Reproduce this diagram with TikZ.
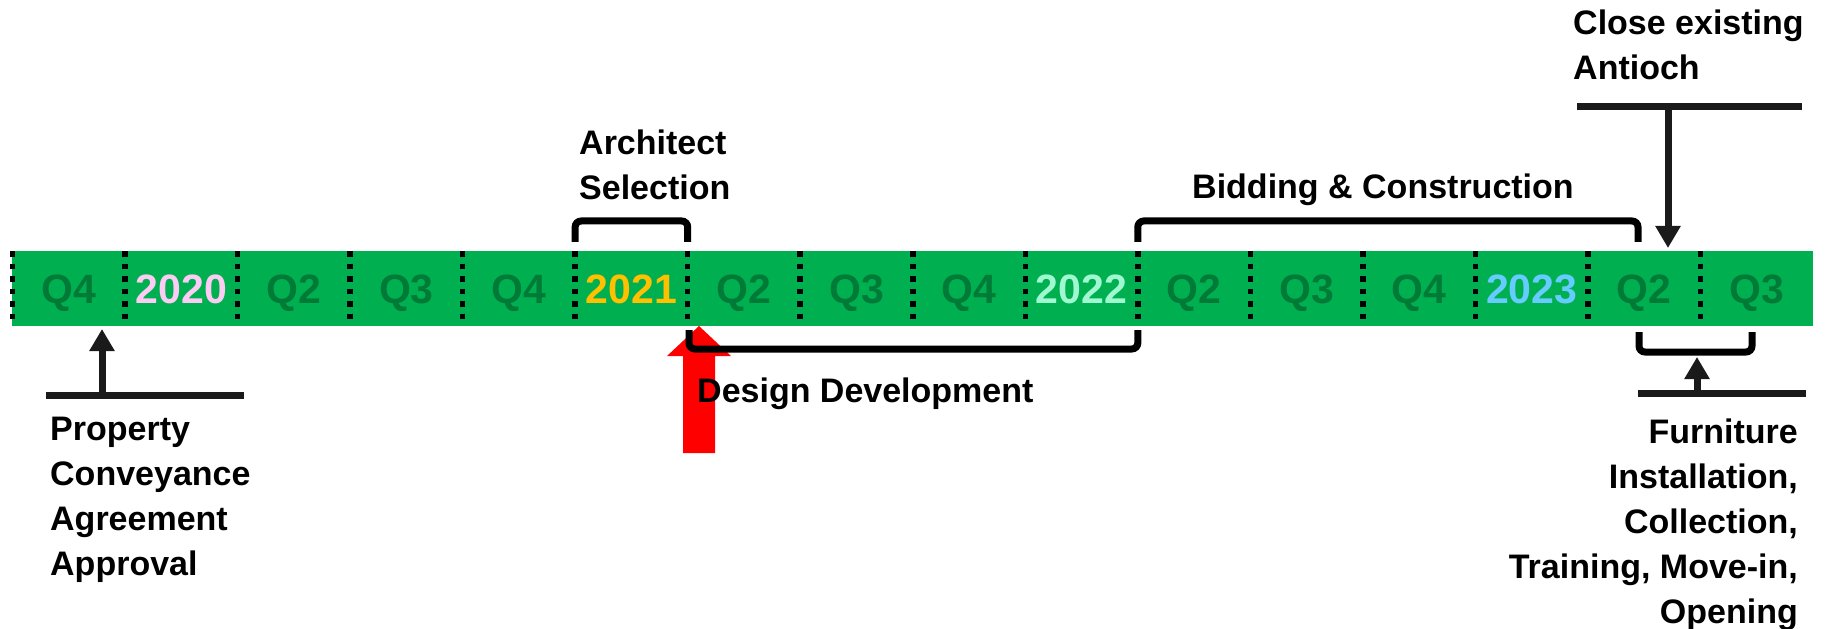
\documentclass[tikz,border=0pt]{standalone}
\usepackage{fontspec}
\setmainfont{Liberation Sans}
\usetikzlibrary{arrows.meta}
\definecolor{bargreen}{HTML}{00B050}
\definecolor{qgreen}{HTML}{007A37}
\definecolor{yaa}{HTML}{FCCCF4}
\definecolor{ybb}{HTML}{FFC000}
\definecolor{ycc}{HTML}{A0F8D0}
\definecolor{ydd}{HTML}{66CCFF}
\definecolor{ink}{HTML}{1A1A1A}
\begin{document}
\begin{tikzpicture}[x=1bp,y=-1bp,
  barbox/.style={fill=bargreen, minimum width=1800.5bp, minimum height=75bp, inner sep=0pt},
  celltext/.style={font=\fontsize{41bp}{45bp}\selectfont\bfseries, text height=29.5bp, text depth=0pt, inner sep=0pt},
  txtlabel/.style={font=\fontsize{34bp}{45bp}\selectfont\bfseries, inner sep=0pt, align=left},
  divider/.style={line width=5.5bp, dash pattern=on 5.5bp off 7bp},
  bracketline/.style={black, line width=7bp, rounded corners=6bp},
  ruleline/.style={ink, line width=7bp},
  pointer/.style={ink, line width=7bp, -{Triangle[width=24bp,length=22bp]}}
]
\useasboundingbox (0,0) rectangle (1825,629);
% timeline bar
\node[barbox] (bar) at (912.75,288.5) {};
\foreach \t/\c [count=\i from 0] in {Q4/qgreen,2020/yaa,Q2/qgreen,Q3/qgreen,Q4/qgreen,2021/ybb,Q2/qgreen,Q3/qgreen,Q4/qgreen,2022/ycc,Q2/qgreen,Q3/qgreen,Q4/qgreen,2023/ydd,Q2/qgreen,Q3/qgreen}
  \node[celltext, text=\c] (cell\i) at ({12.5+112.53*(\i+0.5)},288.5) {\t};
\foreach \k in {0,...,15}{
  \coordinate (d\k) at ({12.5+112.53*\k},251);
  \draw[divider] (d\k) -- ++(0,75);
}
% red arrow
\fill[red] (683,453) -- (683,356) -- (667,356) -- (699,326) -- (731,356) -- (715,356) -- (715,453) -- cycle;
% brackets
\draw[bracketline] (d5 |- 0,242) -- (d5 |- 0,221) -- (d6 |- 0,221) -- (d6 |- 0,242);
\draw[bracketline] (d10 |- 0,242) -- (d10 |- 0,221) -- (1638,221) -- (1638,242);
\draw[bracketline] (689,330) -- (689,349) -- (d10 |- 0,349) -- (d10 |- 0,330);
\draw[bracketline] (1639,332) -- (1639,352) -- (1752,352) -- (1752,332);
% markers with pointers
\coordinate (pl) at (46,395); \coordinate (pr) at (244,395); \coordinate (pm) at (102,395);
\draw[ruleline] (pl) -- (pr);
\draw[pointer] (pm) -- (pm |- 0,329);
\coordinate (cl) at (1577,107); \coordinate (cr) at (1802,107); \coordinate (cm) at (1668,107);
\draw[ruleline] (cl) -- (cr);
\draw[pointer] (cm) -- (cm |- 0,248);
\coordinate (fl) at (1638,393); \coordinate (fr) at (1806,393); \coordinate (fm) at (1697,393);
\draw[ruleline] (fl) -- (fr);
\draw[pointer] (fm) -- (fm |- 0,357);
% labels (multi-line nodes: base anchor is on the last line)
\node[txtlabel, anchor=base west] (arch) at (579,200) {Architect\\Selection};
\node[txtlabel, anchor=base west] (bid) at (1192,199) {Bidding \& Construction};
\node[txtlabel, anchor=base west] (close) at (1573,80) {Close existing\\Antioch};
\node[txtlabel, anchor=base west] (prop) at (50,575) {Property\\Conveyance\\Agreement\\Approval};
\node[txtlabel, anchor=base west] (des) at (697,402) {Design Development};
\node[txtlabel, anchor=base east, align=right] (furn) at (1798,623) {Furniture\\Installation,\\Collection,\\Training, Move-in,\\Opening};
\end{tikzpicture}
\end{document}
